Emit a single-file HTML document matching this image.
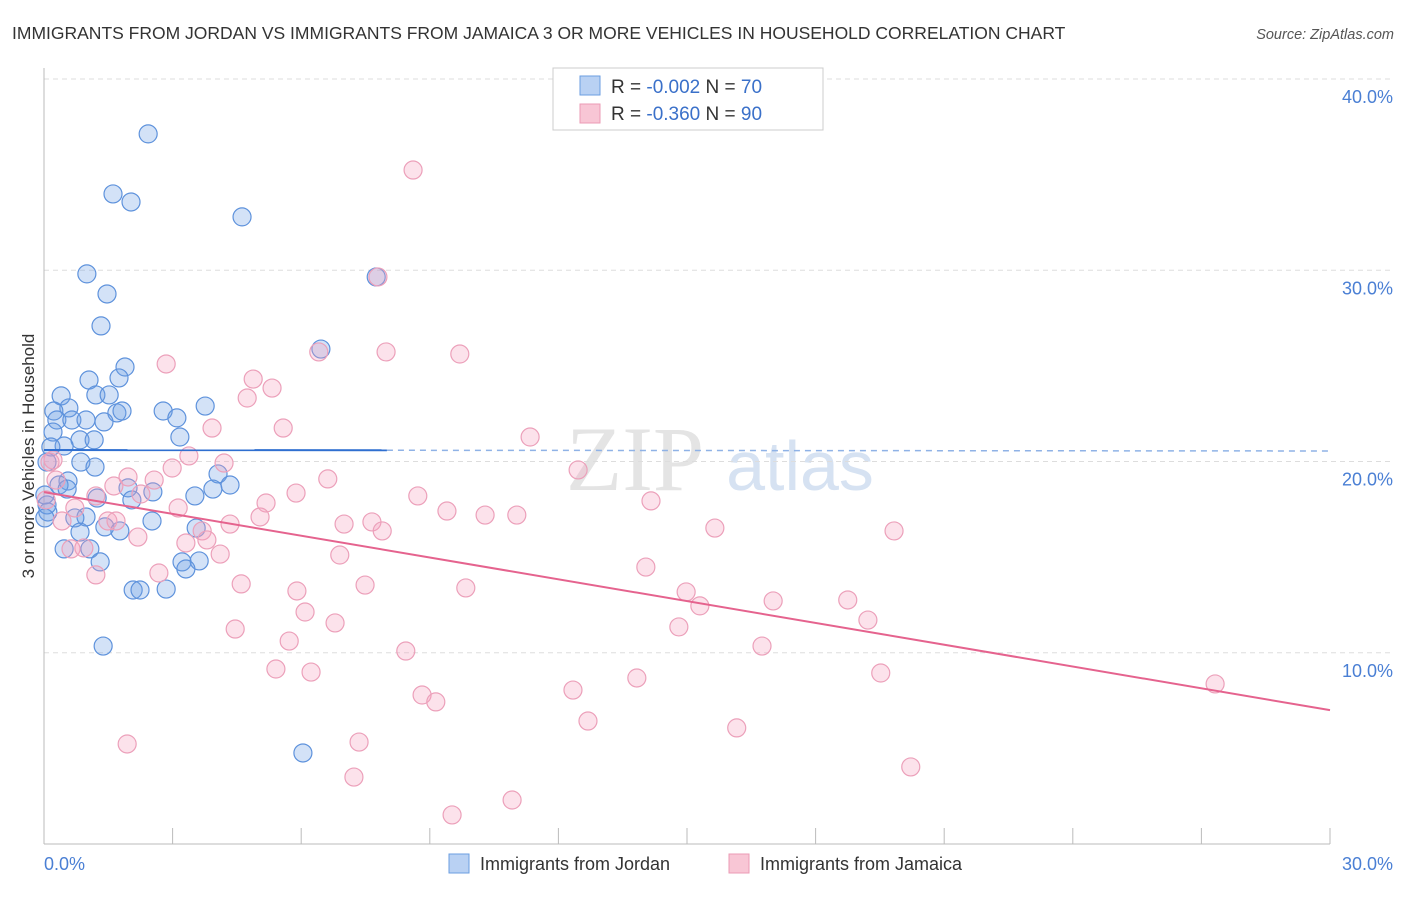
<!DOCTYPE html>
<html><head><meta charset="utf-8"><style>
body{margin:0;background:#fff;font-family:"Liberation Sans",sans-serif;}
</style></head><body>
<svg width="1406" height="892" xmlns="http://www.w3.org/2000/svg" style="font-family:'Liberation Sans',sans-serif">
<text x="12" y="39" font-size="17.5" fill="#333">IMMIGRANTS FROM JORDAN VS IMMIGRANTS FROM JAMAICA 3 OR MORE VEHICLES IN HOUSEHOLD CORRELATION CHART</text>
<text x="1394" y="39" font-size="14.5" fill="#555" font-style="italic" text-anchor="end">Source: ZipAtlas.com</text>
<g><text x="635" y="490" font-size="92" fill="#e4e4e4" font-family="'Liberation Serif',serif" text-anchor="middle">ZIP</text><text x="800" y="490" font-size="70" fill="#d6e2f2" text-anchor="middle">atlas</text></g>
<g id="grid"></g>
<g id="axes"></g>
<g id="marks"></g>
<text transform="translate(34,456) rotate(-90)" font-size="17" fill="#333" text-anchor="middle">3 or more Vehicles in Household</text>
<g>
<rect x="553" y="68" width="270" height="62" fill="#fff" stroke="#ccc"/>
<rect x="580" y="76" width="20" height="19" fill="#b9d1f3" stroke="#6b9ee0"/>
<rect x="580" y="104" width="20" height="19" fill="#f8c6d5" stroke="#eb9bb5"/>
<text x="611" y="93" font-size="19" fill="#333">R = <tspan fill="#3a70c9">-0.002</tspan>   N = <tspan fill="#3a70c9">70</tspan></text>
<text x="611" y="120" font-size="19" fill="#333">R = <tspan fill="#3a70c9">-0.360</tspan>   N = <tspan fill="#3a70c9">90</tspan></text>
</g>
<g>
<rect x="449" y="854" width="20" height="19" fill="#b9d1f3" stroke="#6b9ee0"/>
<text x="480" y="870" font-size="18" fill="#333">Immigrants from Jordan</text>
<rect x="729" y="854" width="20" height="19" fill="#f8c6d5" stroke="#eb9bb5"/>
<text x="760" y="870" font-size="18" fill="#333">Immigrants from Jamaica</text>
</g>
</svg>
<script>
const jordanX=[2.43,1.61,2.03,4.62,1.00,1.47,1.33,6.46,7.75,1.89,1.05,1.75,0.40,1.21,1.52,0.58,0.23,1.70,1.82,2.78,3.76,3.10,0.30,0.65,0.98,1.40,0.21,0.84,1.17,3.17,0.47,0.16,0.07,0.86,1.19,4.06,0.56,0.35,0.54,1.96,4.34,3.94,2.54,3.52,1.24,2.05,0.09,0.98,0.72,2.52,1.42,1.77,0.84,3.55,0.47,1.07,3.22,3.62,1.31,3.31,2.08,2.24,2.85,1.38,6.04,0.02,0.07,0.02];
const jordanY=[37.13,33.99,33.57,32.79,29.81,28.76,27.09,25.88,29.65,24.94,24.26,24.37,23.43,23.48,23.48,22.80,22.64,22.54,22.64,22.64,22.90,22.28,22.17,22.17,22.17,22.07,21.54,21.13,21.13,21.28,20.81,20.76,19.97,19.97,19.71,19.35,18.98,18.77,18.56,18.62,18.77,18.56,18.41,18.20,18.09,17.99,17.36,17.10,17.05,16.89,16.58,16.37,16.31,16.52,15.43,15.43,14.75,14.80,14.75,14.38,13.28,13.28,13.33,10.35,4.76,18.25,17.73,17.05];
const jamaicaX=[8.61,7.79,6.41,7.98,9.70,2.85,4.88,5.32,4.74,11.34,3.92,5.58,0.21,3.38,4.20,12.46,2.99,0.28,1.96,2.57,6.62,1.63,1.21,2.26,5.88,8.72,14.16,5.18,3.13,0.72,9.40,10.29,11.03,7.00,7.65,4.34,5.04,7.89,1.49,1.68,0.42,2.19,15.65,19.83,3.69,3.31,3.80,0.63,0.93,4.11,6.90,14.04,2.68,1.21,4.60,7.49,9.84,5.90,14.98,17.01,15.30,18.75,6.09,19.22,6.79,4.46,14.81,5.72,16.75,8.44,5.41,6.23,19.52,13.83,8.82,9.14,12.34,12.69,16.16,1.94,7.35,7.23,20.22,10.92,9.52,27.32,0.14,0.05];
const jamaicaY=[35.24,29.65,25.73,25.73,25.62,25.10,24.31,23.84,23.32,21.28,21.75,21.75,20.08,20.29,19.92,19.56,19.66,19.03,19.19,19.03,19.09,18.72,18.20,18.30,18.35,18.20,17.94,17.83,17.57,17.57,17.41,17.20,17.20,16.73,16.84,16.73,17.10,16.37,16.89,16.89,16.89,16.05,16.52,16.37,16.37,15.74,15.90,15.43,15.48,15.16,15.11,14.48,14.17,14.07,13.60,13.54,13.39,13.23,13.18,12.71,12.45,12.76,12.13,11.71,11.56,11.24,11.35,10.61,10.35,10.09,9.15,8.99,8.94,8.68,7.79,7.43,8.05,6.43,6.07,5.23,5.33,3.50,4.03,2.30,1.52,8.37,19.97,17.99];
const yTicks=[10,20,30,40];
const yTickLabels=["10.0%","20.0%","30.0%","40.0%"];
const xTicks=[0,3,6,9,12,15,18,21,24,27,30];
const jordanTrend=[20.6,20.55];
const jamaicaTrend=[18.4,7.0];
const NS="http://www.w3.org/2000/svg";
const X0=44,X1=1330,Y0=844,PXY=19.125;
const sx=v=>X0+(v/30)*(X1-X0);
const sy=v=>Y0-v*PXY;
function mk(t,a,p){const e=document.createElementNS(NS,t);for(const k in a)e.setAttribute(k,a[k]);p.appendChild(e);return e;}
const grid=document.getElementById('grid'),axes=document.getElementById('axes'),marks=document.getElementById('marks');
yTicks.forEach((v,i)=>{
 const l=mk('line',{x1:X0,x2:1394,y1:sy(v),y2:sy(v),stroke:'#ddd','stroke-dasharray':'5,4'},grid);
 
 
 const t=mk('text',{x:1393,y:sy(v)+24,'font-size':18,fill:'#4a7fd4','text-anchor':'end'},axes);
 t.textContent=yTickLabels[i];
 
 
});
const la=mk('line',{x1:X0,x2:X0,y1:68,y2:Y0,stroke:'#bbb'},axes);


const lb=mk('line',{x1:X0,x2:X1,y1:Y0,y2:Y0,stroke:'#bbb'},axes);


xTicks.forEach(v=>{const t=mk('line',{x1:sx(v),x2:sx(v),y1:828,y2:Y0,stroke:'#bbb'},axes);
 
 });
const xl0=mk('text',{x:44,y:870,'font-size':18,fill:'#4a7fd4'},axes);xl0.textContent='0.0%';


const xl1=mk('text',{x:1393,y:870,'font-size':18,fill:'#4a7fd4','text-anchor':'end'},axes);xl1.textContent='30.0%';


jordanX.forEach((x,i)=>{const c=mk('circle',{cx:sx(x),cy:sy(jordanY[i]),r:9,fill:'rgba(110,160,230,0.3)',stroke:'#5e92dc','stroke-width':1.2},marks);
 
 });
jamaicaX.forEach((x,i)=>{const c=mk('circle',{cx:sx(x),cy:sy(jamaicaY[i]),r:9,fill:'rgba(245,160,190,0.3)',stroke:'#eca0ba','stroke-width':1.2},marks);
 
 });
const xs=8;
const jy=v=>jordanTrend[0]+(jordanTrend[1]-jordanTrend[0])*v/30;
const t1=mk('line',{x1:sx(0),y1:sy(jy(0)),x2:sx(xs),y2:sy(jy(xs)),stroke:'#2f6fd0','stroke-width':2},marks);


const t2=mk('line',{x1:sx(xs),y1:sy(jy(xs)),x2:sx(30),y2:sy(jy(30)),stroke:'#8fb2e6','stroke-width':1.5,'stroke-dasharray':'6,5'},marks);


const t3=mk('line',{x1:sx(0),y1:sy(jamaicaTrend[0]),x2:sx(30),y2:sy(jamaicaTrend[1]),stroke:'#e5638e','stroke-width':2},marks);


</script>
</body></html>
